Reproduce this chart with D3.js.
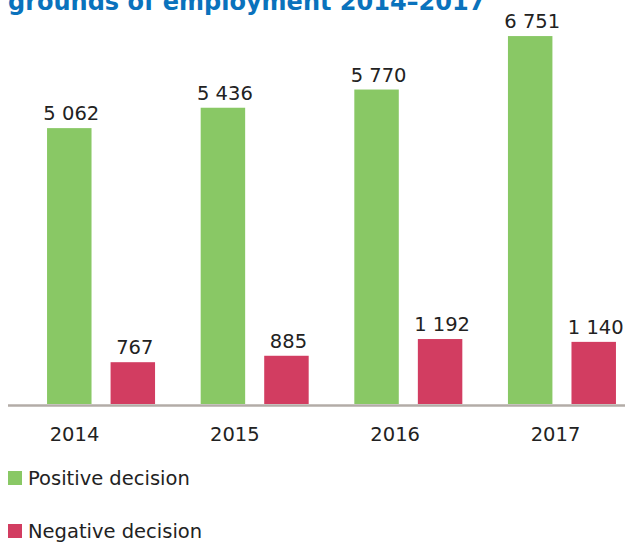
<!DOCTYPE html>
<html>
<head>
<meta charset="utf-8">
<script src="https://cdn.jsdelivr.net/npm/d3@7"></script>
<style>
    body { margin: 0; background: #fff; }
    text { font-family: "DejaVu Sans", Verdana, sans-serif; fill: #222; }
</style>
</head>
<body>
<div id="chart"></div>
<script>
// data
const years = ["2014", "2015", "2016", "2017"];
const positive = [5062, 5436, 5770, 6751];
const negative = [767, 885, 1192, 1140];
const seriesNames = ["Positive decision", "Negative decision"];
const seriesColors = ["#89c865", "#d23d61"];
const title = "grounds of employment 2014\u20132017";

const width = 625, height = 543;
const baseline = 404;

const svg = d3.select("#chart").append("svg")
    .attr("width", width)
    .attr("height", height);

// title, cut by the top edge like in the source
svg.append("text")
    .attr("x", 8)
    .attr("y", 10)
    .style("font-size", "24px")
    .style("font-weight", "bold")
    .style("fill", "#0a72bc")
    .text(title);

// scales
const x = d3.scaleBand()
    .domain(years)
    .range([24, 639])
    .paddingInner(0.297)
    .paddingOuter(0.15);

const x1 = d3.scaleBand()
    .domain([0, 1])
    .range([0, x.bandwidth()])
    .paddingInner(0.3);

// the year labels sit on their own spacing
const xLabel = d3.scalePoint()
    .domain(years)
    .range([74, 555]);

const y = d3.scaleLinear()
    .domain([0, 7000])
    .range([baseline, baseline - 7000 * 0.0545]);

const rows = years.map((yr, i) => ({ year: yr, values: [positive[i], negative[i]] }));

const groups = svg.selectAll(".grp")
    .data(rows)
    .enter().append("g")
    .attr("class", "grp")
    .attr("transform", d => "translate(" + x(d.year) + ",0)");

groups.selectAll("rect")
    .data(d => d.values.map((v, k) => ({ k: k, v: v })))
    .enter().append("rect")
    .attr("x", d => x1(d.k))
    .attr("width", x1.bandwidth())
    .attr("y", d => y(d.v))
    .attr("height", d => baseline - y(d.v))
    .attr("fill", d => seriesColors[d.k]);

// value labels
groups.selectAll(".val")
    .data(d => d.values.map((v, k) => ({ k: k, v: v })))
    .enter().append("text")
    .attr("class", "val")
    .attr("x", d => x1(d.k) + x1.bandwidth() / 2 + 2)
    .attr("y", d => y(d.v) - 8)
    .attr("text-anchor", "middle")
    .style("font-size", "19.5px")
    .text(d => d3.format(",")(d.v).replace(",", " "));

// baseline
svg.append("line")
    .attr("x1", 8).attr("x2", width)
    .attr("y1", baseline + 1.5).attr("y2", baseline + 1.5)
    .attr("stroke", "#b3aca7")
    .attr("stroke-width", 2.5);

// x axis labels
const axis = svg.append("g")
    .attr("transform", "translate(0," + (baseline + 2) + ")")
    .call(d3.axisBottom(xLabel).tickSize(0).tickPadding(21));
axis.select(".domain").remove();
axis.selectAll("text")
    .style("font-family", "'DejaVu Sans', Verdana, sans-serif")
    .style("font-size", "19.5px")
    .style("fill", "#222");

// legend
const legend = svg.selectAll(".leg")
    .data(seriesNames)
    .enter().append("g")
    .attr("class", "leg")
    .attr("transform", (d, i) => "translate(8," + (471 + i * 53) + ")");

legend.append("rect")
    .attr("width", 14)
    .attr("height", 14)
    .attr("fill", (d, i) => seriesColors[i]);

legend.append("text")
    .attr("x", 20)
    .attr("y", 14)
    .style("font-size", "19.5px")
    .text(d => d);
</script>
</body>
</html>
